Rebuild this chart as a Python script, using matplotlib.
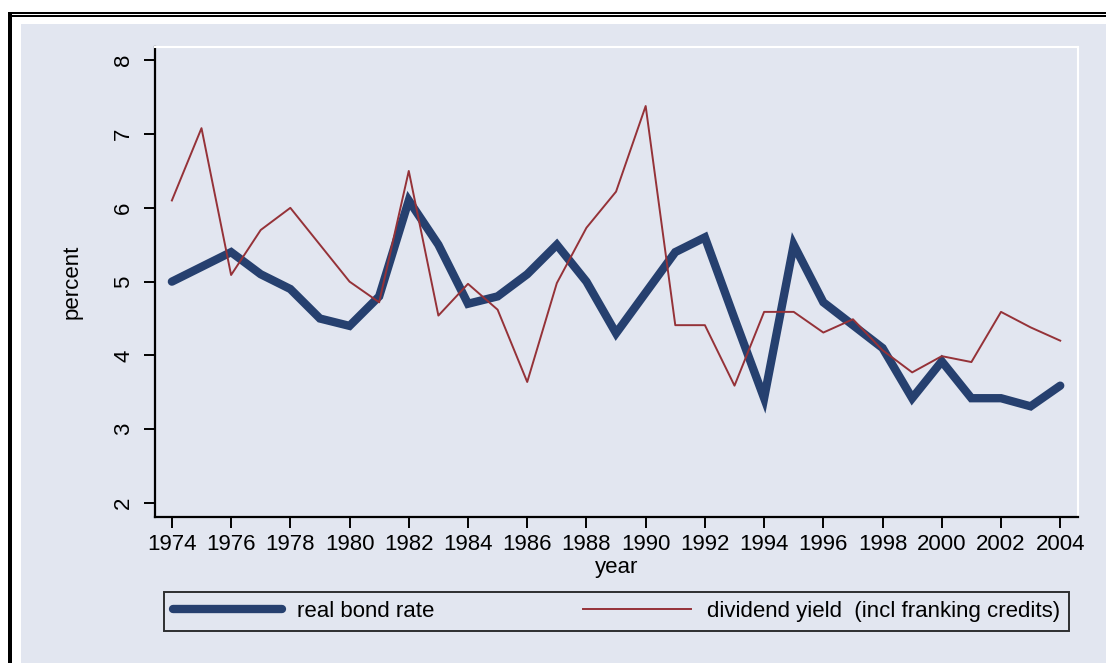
import matplotlib
matplotlib.use("Agg")
import matplotlib.pyplot as plt
from matplotlib.patches import Rectangle

plt.rcParams['font.family'] = ['Liberation Sans', 'DejaVu Sans']

years = list(range(1974, 2005))
real_bond_rate = [5.0, 5.2, 5.4, 5.1, 4.9, 4.5, 4.4, 4.8, 6.1, 5.5,
                  4.7, 4.8, 5.1, 5.5, 5.0, 4.3, 4.85, 5.4, 5.6, 4.5,
                  3.42, 5.5, 4.72, 4.41, 4.1, 3.42, 3.92, 3.42, 3.42, 3.31,
                  3.59]
dividend_yield = [6.1, 7.08, 5.09, 5.7, 6.0, 5.5, 5.0, 4.72, 6.5, 4.54,
                  4.97, 4.62, 3.64, 4.98, 5.73, 6.22, 7.38, 4.41, 4.41, 3.59,
                  4.59, 4.59, 4.31, 4.49, 4.07, 3.77, 3.99, 3.91, 4.59, 4.38,
                  4.2]
xticks = list(range(1974, 2005, 2))
yticks = [2, 3, 4, 5, 6, 7, 8]

BG = "#E2E6F0"
NAVY = "#26406F"
MAROON = "#953238"

W, H = 1106, 663
fig = plt.figure(figsize=(W / 100, H / 100), dpi=100)
fig.patch.set_facecolor("white")


def fx(px):
    return px / W


def fy(py):
    return 1 - py / H


# outer frame (black double line on top, thick on the left) and graph region
fig.add_artist(Rectangle((fx(21), 0), 1 - fx(21), fy(24), transform=fig.transFigure,
                         facecolor=BG, edgecolor="none", zorder=0))
fig.add_artist(Rectangle((fx(8), 0), fx(4), fy(12), transform=fig.transFigure,
                         facecolor="black", edgecolor="none", zorder=1))
fig.add_artist(Rectangle((fx(8), fy(14.3)), 1, 2 / H, transform=fig.transFigure,
                         facecolor="black", edgecolor="none", zorder=1))
fig.add_artist(Rectangle((fx(12), fy(16.7)), 1, 1.5 / H, transform=fig.transFigure,
                         facecolor="black", edgecolor="none", zorder=1))

ax = fig.add_axes([fx(155), fy(517), fx(1078 - 155), (517 - 47) / H])
ax.set_facecolor(BG)

ax.plot(years, real_bond_rate, color=NAVY, lw=6, solid_capstyle="round",
        solid_joinstyle="miter", label="real bond rate")
ax.plot(years, dividend_yield, color=MAROON, lw=1.4,
        label="dividend yield  (incl franking credits)")

ax.set_xlim(1973.43, 2004.6)
ax.set_ylim(1.81, 8.18)
ax.set_xticks(xticks)
ax.set_yticks(yticks)
ax.tick_params(axis="both", direction="out", length=8, width=1.4, labelsize=16, colors="black")
ax.tick_params(axis="x", pad=4)
ax.tick_params(axis="y", pad=7)
for lab in ax.get_yticklabels():
    lab.set_rotation(90)
    lab.set_va("center")

for side in ["top", "right"]:
    ax.spines[side].set_color("white")
    ax.spines[side].set_linewidth(1.5)
for side in ["left", "bottom"]:
    ax.spines[side].set_color("black")
    ax.spines[side].set_linewidth(1.6)

ax.set_xlabel("year", fontsize=16, labelpad=2)
ax.set_ylabel("percent", fontsize=16, labelpad=22)

leg = fig.legend(loc="lower left", ncol=2, mode="expand",
                 bbox_to_anchor=(fx(164), fy(631), fx(1069 - 164), 43 / H),
                 borderaxespad=0, fontsize=16, handlelength=4.9, handletextpad=0.7,
                 borderpad=0.4, columnspacing=2, fancybox=False, frameon=True)
leg.get_frame().set_edgecolor("black")
leg.get_frame().set_facecolor(BG)
leg.get_frame().set_linewidth(1.4)

fig.savefig("out.png", dpi=100)
